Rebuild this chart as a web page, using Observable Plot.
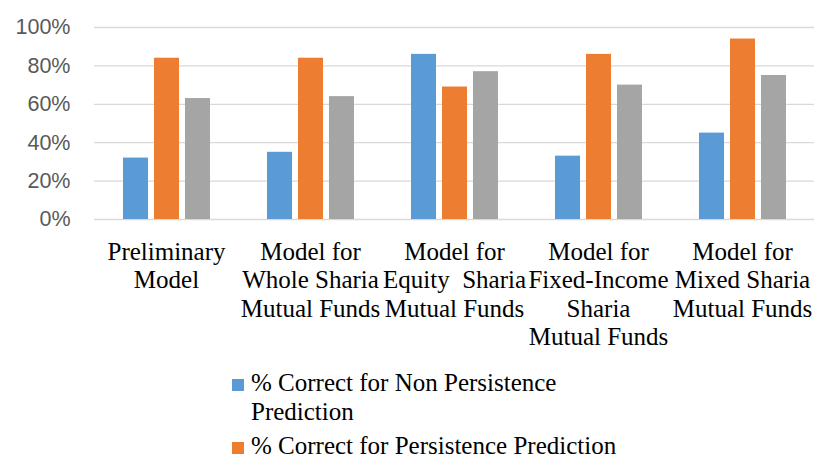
<!DOCTYPE html>
<html><head><meta charset="utf-8">
<script src="https://cdn.jsdelivr.net/npm/d3@7"></script>
<script src="https://cdn.jsdelivr.net/npm/@observablehq/plot@0.6"></script>
<style>
body{margin:0;background:#fff;}
#legend{margin-left:232px;margin-top:9px;font-family:"Liberation Serif",serif;font-size:25px;line-height:28.5px;color:#000;}
.item{display:flex;align-items:flex-start;margin-bottom:6px}
.sw{width:11.5px;height:11.5px;margin-top:10px;margin-right:7.5px;flex:none}
.lbl{width:390px}
</style></head><body>
<div id="chart"></div><div id="legend"></div>
<script>
const categories = [
  "Preliminary\nModel",
  "Model for\nWhole Sharia\nMutual Funds",
  "Model for\nEquity  Sharia\nMutual Funds",
  "Model for\nFixed-Income\nSharia\nMutual Funds",
  "Model for\nMixed Sharia\nMutual Funds"
];
const seriesNames = [
  "% Correct for Non Persistence Prediction",
  "% Correct for Persistence Prediction",
  "Overall Percentage"
];
const nonPersistence = [32, 35, 86, 33, 45];
const persistence = [84, 84, 69, 86, 94];
const overall = [63, 64, 77, 70, 75];
const yTicks = [0, 20, 40, 60, 80, 100];
const colors = ["#5B9BD5", "#ED7D31", "#A5A5A5"];

const seriesValues = [nonPersistence, persistence, overall];
const data = categories.flatMap((c, i) =>
  seriesNames.map((s, k) => ({cat: c, series: s, value: seriesValues[k][i]})));

const plot = Plot.plot({
  width: 817, height: 360,
  marginLeft: 92, marginRight: 2, marginTop: 27, marginBottom: 141,
  fx: {domain: categories, padding: 0, label: null},
  x: {domain: seriesNames, paddingInner: 0.206, paddingOuter: 0.898, axis: null},
  y: {domain: [0, 100], label: null},
  color: {domain: seriesNames, range: colors},
  marks: [
    Plot.gridY(yTicks, {stroke: "#d9d9d9", strokeOpacity: 1, strokeWidth: 1.3}),
    Plot.axisY(yTicks, {tickSize: 0, tickPadding: 24, tickFormat: d => d + "%",
      fontSize: 21.5, fontFamily: "Liberation Sans", fill: "#595959", label: null}),
    Plot.barY(data, {fx: "cat", x: "series", y: "value", fill: "series"}),
    Plot.axisFx({anchor: "bottom", tickSize: 0, tickPadding: 20, fontSize: 25,
      fontFamily: "Liberation Serif", lineHeight: 1.14, fill: "#000", label: null})
  ]
});
document.getElementById("chart").appendChild(plot);

const legend = document.getElementById("legend");
seriesNames.forEach((s, k) => {
  const item = document.createElement("div");
  item.className = "item";
  const sw = document.createElement("div");
  sw.className = "sw"; sw.style.background = colors[k];
  const lbl = document.createElement("div");
  lbl.className = "lbl"; lbl.textContent = s;
  item.appendChild(sw); item.appendChild(lbl);
  legend.appendChild(item);
});
</script>
</body></html>
